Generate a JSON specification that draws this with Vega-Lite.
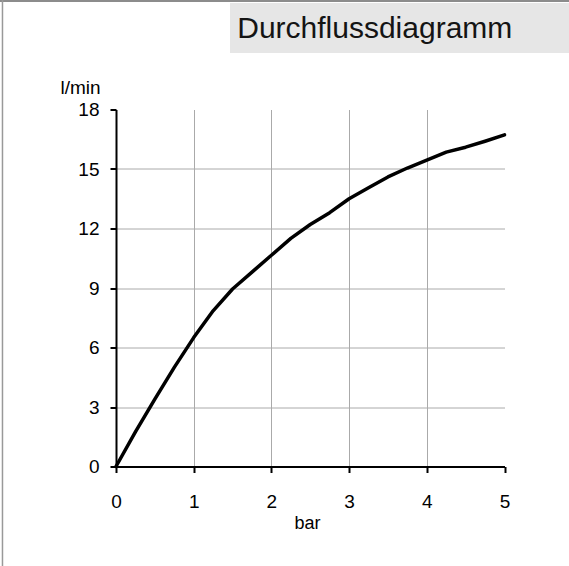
{
  "$schema": "https://vega.github.io/schema/vega-lite/v6.json",
  "width": 388.5,
  "height": 357,
  "autosize": {"type": "none"},
  "padding": {"left": 116, "top": 109.5, "right": 64.5, "bottom": 99.5},
  "background": "white",
  "config": {"view": {"stroke": null}, "font": "Liberation Sans"},
  "datasets": {
    "flow": [
      {"bar": 0, "lmin": 0},
      {"bar": 0.25, "lmin": 1.75},
      {"bar": 0.5, "lmin": 3.4},
      {"bar": 0.75, "lmin": 5.0},
      {"bar": 1.0, "lmin": 6.5},
      {"bar": 1.25, "lmin": 7.85},
      {"bar": 1.5, "lmin": 8.95},
      {"bar": 1.75, "lmin": 9.8},
      {"bar": 2.0, "lmin": 10.65},
      {"bar": 2.25, "lmin": 11.5},
      {"bar": 2.5, "lmin": 12.2},
      {"bar": 2.75, "lmin": 12.8},
      {"bar": 3.0, "lmin": 13.5},
      {"bar": 3.25, "lmin": 14.05},
      {"bar": 3.5, "lmin": 14.6},
      {"bar": 3.75, "lmin": 15.05},
      {"bar": 4.0, "lmin": 15.45},
      {"bar": 4.25, "lmin": 15.85},
      {"bar": 4.5, "lmin": 16.1},
      {"bar": 4.75, "lmin": 16.4},
      {"bar": 5.0, "lmin": 16.72}
    ],
    "one": [{"label": "Durchflussdiagramm"}]
  },
  "layer": [
    {
      "data": {"name": "one"},
      "mark": {"type": "rect", "color": "#e6e6e6"},
      "encoding": {
        "x": {"datum": 1.467, "type": "quantitative"},
        "x2": {"datum": 6.5},
        "y": {"datum": 20.85, "type": "quantitative"},
        "y2": {"datum": 23.37}
      }
    },
    {
      "data": {"name": "one"},
      "mark": {"type": "text", "fontSize": 30, "color": "#141414", "align": "left", "baseline": "alphabetic", "font": "Liberation Sans"},
      "encoding": {
        "text": {"field": "label"},
        "x": {"datum": 1.56, "type": "quantitative"},
        "y": {"datum": 21.61, "type": "quantitative"}
      }
    },
    {
      "data": {"name": "one"},
      "mark": {"type": "rule", "color": "#8c8c8c", "strokeWidth": 2},
      "encoding": {
        "x": {"datum": -3, "type": "quantitative"},
        "x2": {"datum": 8},
        "y": {"datum": 23.47, "type": "quantitative"}
      }
    },
    {
      "data": {"name": "one"},
      "mark": {"type": "rule", "color": "#999999", "strokeWidth": 1.5},
      "encoding": {
        "x": {"datum": -1.461, "type": "quantitative"},
        "y": {"datum": -8, "type": "quantitative"},
        "y2": {"datum": 24}
      }
    },
    {
      "data": {"name": "flow"},
      "mark": {"type": "line", "color": "black", "strokeWidth": 3.5, "strokeJoin": "round", "strokeCap": "round"},
      "encoding": {
        "x": {
          "field": "bar", "type": "quantitative",
          "scale": {"domain": [0, 5], "nice": false, "zero": false},
          "axis": {
            "values": [0, 1, 2, 3, 4, 5], "format": "d",
            "title": "bar",
            "titleFontSize": 18, "titleFontWeight": "normal", "titleColor": "black", "titleFont": "Liberation Sans",
            "titleX": 178, "titleY": 62, "titleAlign": "left", "titleBaseline": "alphabetic", "titleAnchor": null,
            "labelFontSize": 19, "labelColor": "black", "labelPadding": 20, "labelFont": "Liberation Sans", "labelFlush": false,
            "domainColor": "black", "domainWidth": 2,
            "tickColor": "black", "tickWidth": 2, "tickSize": 6,
            "grid": true, "gridColor": "#aaaaaa", "gridWidth": 1,
            "gridOpacity": {"condition": {"test": "datum.value === 0 || datum.value === 5", "value": 0}, "value": 1}
          }
        },
        "y": {
          "field": "lmin", "type": "quantitative",
          "scale": {"domain": [0, 18], "nice": false, "zero": false},
          "axis": {
            "values": [0, 3, 6, 9, 12, 15, 18], "format": "d",
            "title": "l/min",
            "titleFontSize": 19, "titleFontWeight": "normal", "titleColor": "black", "titleFont": "Liberation Sans",
            "titleAngle": 0, "titleX": -56, "titleY": -16.5, "titleAlign": "left", "titleBaseline": "alphabetic", "titleAnchor": null,
            "labelFontSize": 19, "labelColor": "black", "labelPadding": 11, "labelFont": "Liberation Sans", "labelFlush": false,
            "domainColor": "black", "domainWidth": 2,
            "tickColor": "black", "tickWidth": 2, "tickSize": 6,
            "grid": true, "gridColor": "#aaaaaa", "gridWidth": 1,
            "gridOpacity": {"condition": {"test": "datum.value === 0 || datum.value === 18", "value": 0}, "value": 1}
          }
        }
      }
    }
  ]
}
